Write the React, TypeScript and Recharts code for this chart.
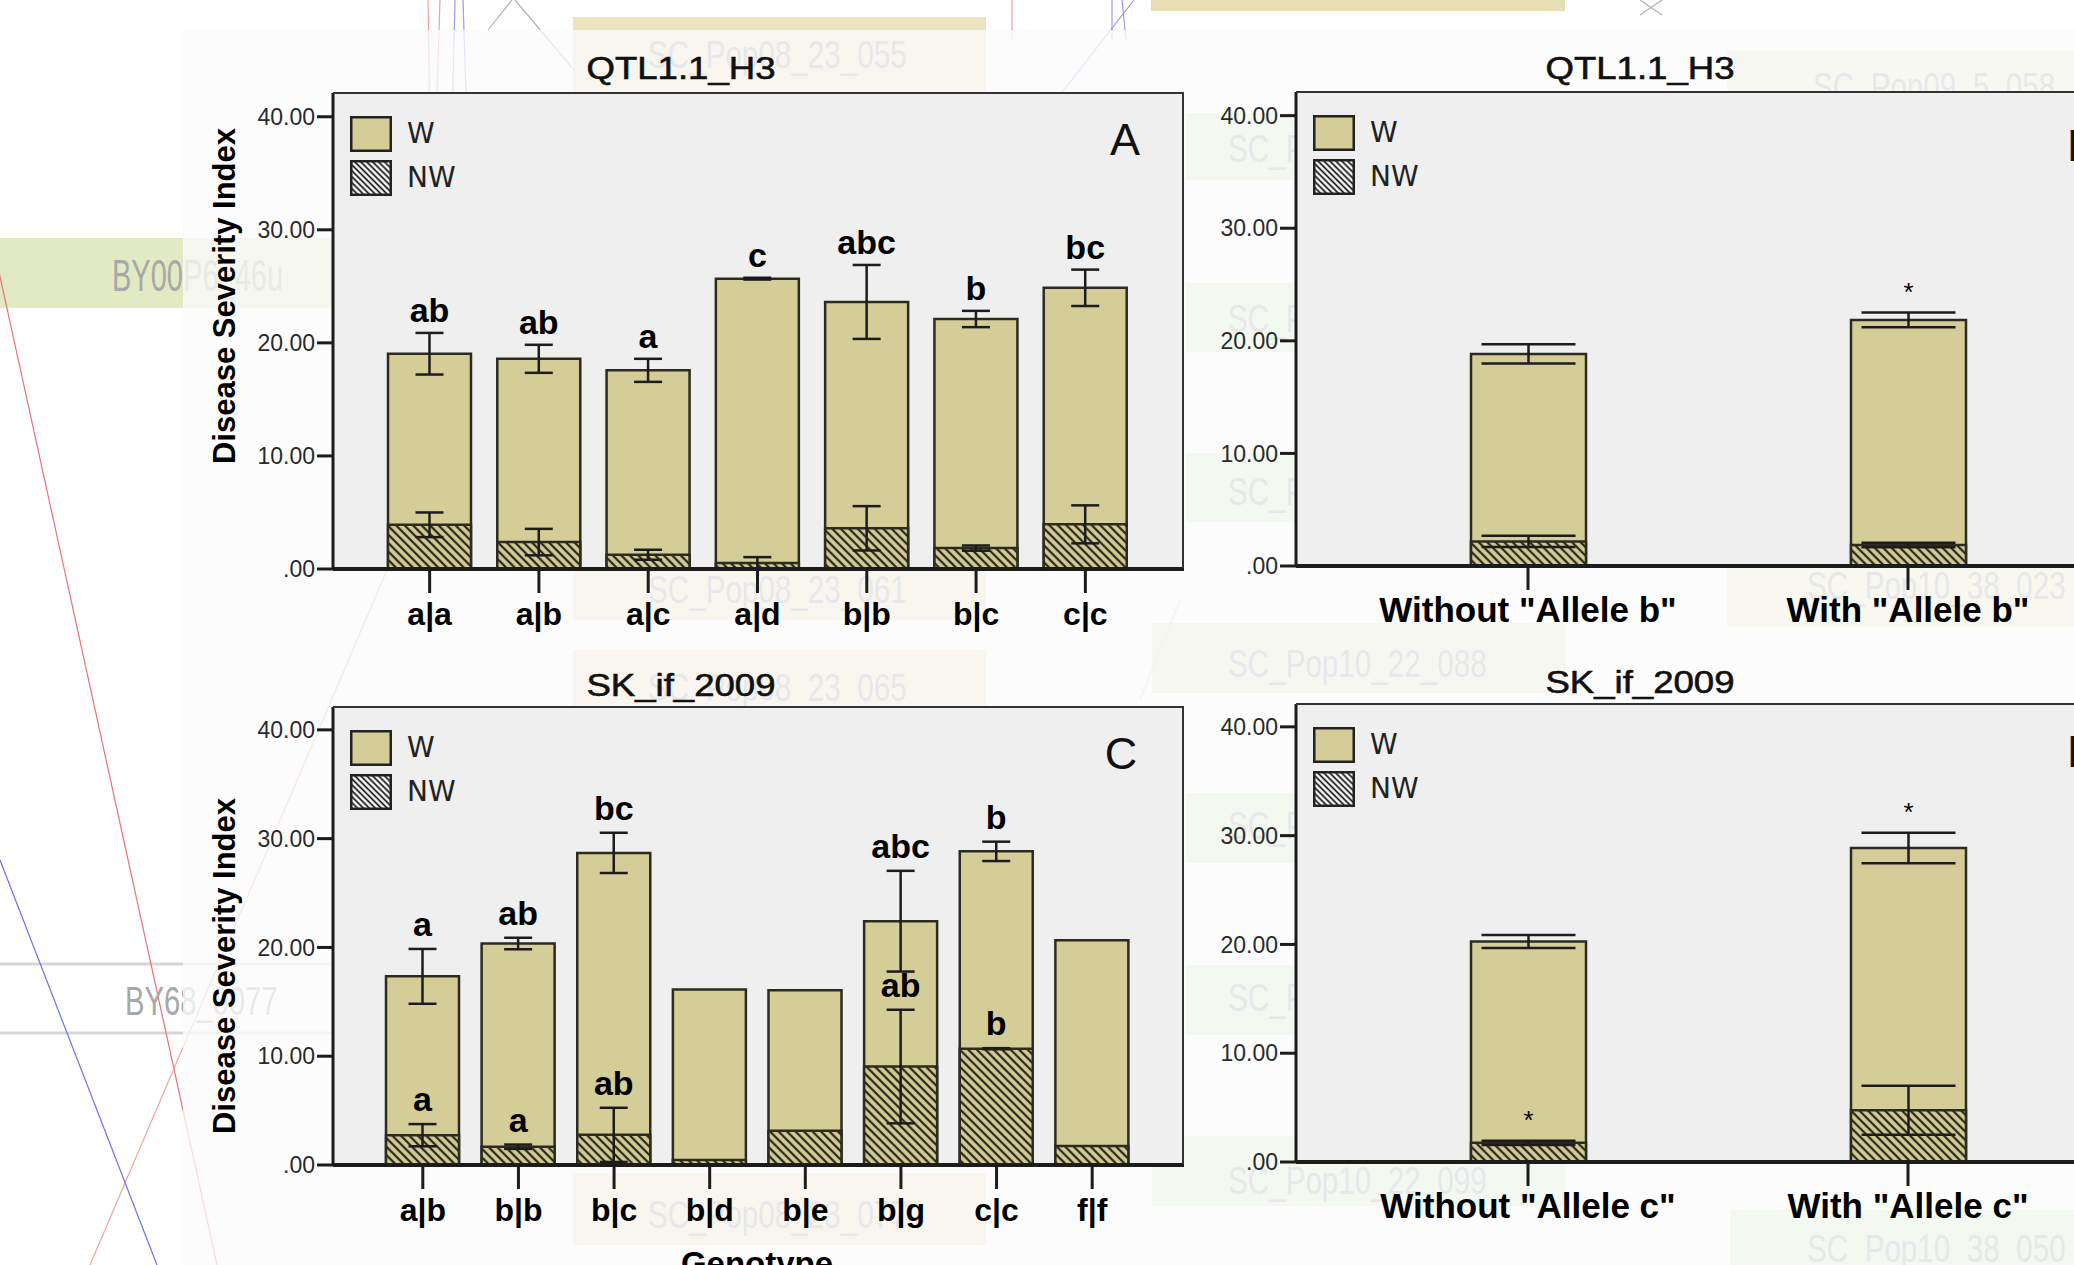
import React from "react";
import { BarChart, Bar, XAxis, YAxis, ErrorBar, LabelList, Legend, CartesianGrid } from "recharts";

const SANS = "'Liberation Sans', Arial, Helvetica, sans-serif";
const TAN = "#d4cd97";
const INK = "#1c1c1c";
const PLOT_BG = "#efefef";
const Y_MAX = 42.1;
const Y_TICKS = [0, 10, 20, 30, 40];

// A: QTL1.1_H3 by genotype
const genoA = ["a|a", "a|b", "a|c", "a|d", "b|b", "b|c", "c|c"];
const wA = [19.04, 18.59, 17.57, 25.68, 23.62, 22.11, 24.87];
const wErrA = [1.84, 1.24, 1.02, 0.08, 3.27, 0.72, 1.61];
const nwA = [3.91, 2.38, 1.26, 0.52, 3.6, 1.85, 3.95];
const nwErrA = [1.09, 1.17, 0.44, 0.53, 1.96, 0.23, 1.68];
const wSigA = ["ab", "ab", "a", "c", "abc", "b", "bc"];
const nwSigA = ["", "", "", "", "", "", ""];

// B: QTL1.1_H3 with / without allele b
const groupsB = ['Without "Allele b"', 'With "Allele b"'];
const wB = [18.84, 21.86];
const wErrB = [0.85, 0.65];
const nwB = [2.18, 1.86];
const nwErrB = [0.5, 0.2];
const wSigB = ["", "*"];
const nwSigB = ["", ""];

// C: SK_if_2009 by genotype
const genoC = ["a|b", "b|b", "b|c", "b|d", "b|e", "b|g", "c|c", "f|f"];
const wC = [17.34, 20.36, 28.69, 16.13, 16.06, 22.41, 28.83, 20.66];
const wErrC = [2.52, 0.53, 1.85, 0, 0, 4.63, 0.89, 0];
const nwC = [2.74, 1.68, 2.77, 0.47, 3.14, 9.05, 10.69, 1.75];
const nwErrC = [1.02, 0.2, 2.49, 0, 0, 5.22, 0.05, 0];
const wSigC = ["a", "ab", "bc", "", "", "abc", "b", ""];
const nwSigC = ["a", "a", "ab", "", "", "ab", "b", ""];

// D: SK_if_2009 with / without allele c
const groupsD = ['Without "Allele c"', 'With "Allele c"'];
const wD = [20.26, 28.86];
const wErrD = [0.6, 1.4];
const nwD = [1.76, 4.76];
const nwErrD = [0.2, 2.25];
const wSigD = ["", "*"];
const nwSigD = ["*", ""];

// faint map labels sitting behind the figure
const bgBoxes = [
  { x: 573, y: 17, w: 413, h: 76, fill: "#ebe5bf" },
  { x: 1151, y: 0, w: 414, h: 11, fill: "#e6dfb3" },
  { x: 1727, y: 50, w: 347, h: 60, fill: "#e6ebcc" },
  { x: 0, y: 238, w: 335, h: 70, fill: "#e2eac4" },
  { x: 1186, y: 113, w: 120, h: 67, fill: "#d6ecc8" },
  { x: 1186, y: 283, w: 120, h: 69, fill: "#d6ecc8" },
  { x: 1186, y: 453, w: 120, h: 69, fill: "#d6ecc8" },
  { x: 573, y: 565, w: 413, h: 55, fill: "#ebe5bf" },
  { x: 1727, y: 567, w: 347, h: 60, fill: "#ebe8c8" },
  { x: 1152, y: 623, w: 413, h: 70, fill: "#e8e9cc" },
  { x: 573, y: 650, w: 413, h: 57, fill: "#ebe5bf" },
  { x: 1186, y: 793, w: 120, h: 70, fill: "#d6ecc8" },
  { x: 1186, y: 965, w: 120, h: 70, fill: "#d6ecc8" },
  { x: 1152, y: 1136, w: 413, h: 70, fill: "#d6ecc8" },
  { x: 573, y: 1173, w: 413, h: 72, fill: "#ebe5bf" },
  { x: 1730, y: 1210, w: 344, h: 55, fill: "#d6ecc8" },
];
const bgLabels = [
  { t: "SC_Pop08_23_055", x: 648, y: 68 },
  { t: "SC_Pop09_5_058", x: 1813, y: 100 },
  { t: "SC_Pop09_5_061", x: 1228, y: 162 },
  { t: "SC_Pop09_5_064", x: 1228, y: 332 },
  { t: "SC_Pop09_5_070", x: 1228, y: 505 },
  { t: "SC_Pop08_23_061", x: 648, y: 603 },
  { t: "SC_Pop10_38_023", x: 1807, y: 599 },
  { t: "SC_Pop10_22_088", x: 1228, y: 677 },
  { t: "SC_Pop08_23_065", x: 648, y: 701 },
  { t: "SC_Pop10_22_090", x: 1228, y: 839 },
  { t: "SC_Pop10_22_093", x: 1228, y: 1011 },
  { t: "SC_Pop10_22_099", x: 1228, y: 1194 },
  { t: "SC_Pop08_23_077", x: 648, y: 1228 },
  { t: "SC_Pop10_38_050", x: 1807, y: 1262 },
];
const bgLines = [
  { x1: -8, y1: 240, x2: 217, y2: 1265, c: "#ee7070" },
  { x1: 90, y1: 1265, x2: 560, y2: 165, c: "#f2a0a0" },
  { x1: 0, y1: 860, x2: 157, y2: 1265, c: "#7070ee" },
  { x1: 428, y1: 0, x2: 430, y2: 125, c: "#f0a0a0" },
  { x1: 440, y1: 0, x2: 436, y2: 125, c: "#f0a0a0" },
  { x1: 455, y1: 0, x2: 452, y2: 125, c: "#9a9af0" },
  { x1: 463, y1: 0, x2: 467, y2: 125, c: "#9a9af0" },
  { x1: 515, y1: 0, x2: 575, y2: 71, c: "#b0b0b0" },
  { x1: 512, y1: 0, x2: 488, y2: 30, c: "#b0b0b0" },
  { x1: 1012, y1: 0, x2: 1012, y2: 40, c: "#f0a0a0" },
  { x1: 1112, y1: 0, x2: 1112, y2: 40, c: "#9a9af0" },
  { x1: 1122, y1: 0, x2: 1126, y2: 40, c: "#9a9af0" },
  { x1: 1134, y1: 0, x2: 1060, y2: 95, c: "#9a9af0" },
  { x1: 1640, y1: 0, x2: 1662, y2: 15, c: "#b0b0b0" },
  { x1: 1662, y1: 0, x2: 1640, y2: 15, c: "#b0b0b0" },
  { x1: 1180, y1: 600, x2: 1140, y2: 700, c: "#d0d0d0" },
];

const YW = 90;
const M = 5;
const XH = 80;
const PAD = { left: 42, right: 44 };

const fmtTick = (v: number) => (v === 0 ? ".00" : v.toFixed(2));

function LegendKey(props: any) {
  const items = [...(props.payload || [])].sort((a: any, b: any) =>
    a.dataKey === "w" ? -1 : b.dataKey === "w" ? 1 : 0
  );
  return (
    <div>
      {items.map((e: any, i: number) => (
        <div key={i} style={{ display: "flex", alignItems: "center", height: 36, marginBottom: 8 }}>
          <svg width={42} height={36} style={{ display: "block" }}>
            <rect x={1.25} y={1.25} width={39.5} height={33.5}
              fill={e.dataKey === "nw" ? "url(#hatchKey)" : TAN} stroke="#222" strokeWidth={2.5} />
          </svg>
          <span style={{ marginLeft: 15, fontFamily: "'DejaVu Sans', sans-serif", fontSize: 28, color: "#222", lineHeight: "36px" }}>
            {e.value}
          </span>
        </div>
      ))}
    </div>
  );
}

type PanelSpec = {
  left: number; top: number; width: number; height: number;
  cats: string[]; w: number[]; wErr: number[]; nw: number[]; nwErr: number[];
  wSig: string[]; nwSig: string[];
  barSize: number; cap: number; tickFont: number; tickMargin: number;
  sigFont: number; sigWeight: number; sigGap: number;
};

function Panel(s: PanelSpec) {
  const data = s.cats.map((c, i) => ({ cat: c, w: s.w[i], wErr: s.wErr[i], nw: s.nw[i], nwErr: s.nwErr[i] }));

  // letters / stars sit just above the error bar cap of each bar
  const sig = (labels: string[], vals: number[], errs: number[]) => (props: any) => {
    const i = props.index;
    const text = labels[i];
    if (!text) return null;
    const vb = props.viewBox && props.viewBox.width != null ? props.viewBox : props;
    const { x, y, width, height } = vb;
    const top = y - (height / vals[i]) * errs[i];
    return (
      <text x={x + width / 2} y={top - s.sigGap} textAnchor="middle" fontFamily={SANS}
        fontSize={s.sigFont} fontWeight={s.sigWeight} fill="#000">
        {text}
      </text>
    );
  };

  return (
    <div style={{ position: "absolute", left: s.left - YW, top: s.top - M }}>
      <BarChart width={YW + s.width + M} height={M + s.height + XH} data={data}
        margin={{ top: M, right: M, bottom: 0, left: 0 }}>
        <CartesianGrid xAxisId="w" horizontal={false} vertical={false} fill={PLOT_BG} fillOpacity={1} />
        <XAxis xAxisId="w" dataKey="cat" interval={0} padding={PAD} height={XH}
          tickSize={24} tickMargin={s.tickMargin}
          axisLine={{ stroke: INK, strokeWidth: 4 }} tickLine={{ stroke: INK, strokeWidth: 3 }}
          tick={{ fill: "#000", fontSize: s.tickFont, fontWeight: 700, fontFamily: SANS }} />
        <XAxis xAxisId="nw" dataKey="cat" hide height={0} padding={PAD} />
        <YAxis domain={[0, Y_MAX]} ticks={Y_TICKS} allowDataOverflow width={YW}
          tickSize={16} tickMargin={2} tickFormatter={fmtTick}
          axisLine={{ stroke: INK, strokeWidth: 3 }} tickLine={{ stroke: INK, strokeWidth: 3 }}
          tick={{ fill: "#2a2a2a", fontSize: 23, fontFamily: SANS }} />
        <Legend layout="vertical" align="center" verticalAlign="middle" content={LegendKey}
          wrapperStyle={{ left: YW + 17, top: M + 23, width: "auto", height: "auto" }} />
        <Bar xAxisId="w" dataKey="w" name="W" fill={TAN} stroke="#2c2b20" strokeWidth={2.5}
          barSize={s.barSize} isAnimationActive={false}>
          <ErrorBar dataKey="wErr" width={s.cap} stroke={INK} strokeWidth={2.5} direction="y" />
          <LabelList dataKey="w" content={sig(s.wSig, s.w, s.wErr)} />
        </Bar>
        <Bar xAxisId="nw" dataKey="nw" name="NW" fill="url(#hatchBar)" stroke="#2c2b20" strokeWidth={2.5}
          barSize={s.barSize} isAnimationActive={false}>
          <ErrorBar dataKey="nwErr" width={s.cap} stroke={INK} strokeWidth={2.5} direction="y" />
          <LabelList dataKey="nw" content={sig(s.nwSig, s.nw, s.nwErr)} />
        </Bar>
      </BarChart>
      {/* top and right edges of the plot frame */}
      <div style={{
        position: "absolute", left: YW, top: M - 1, width: s.width, height: s.height,
        borderTop: "2.5px solid #333", borderRight: "2.5px solid #333", boxSizing: "border-box", pointerEvents: "none",
      }} />
    </div>
  );
}

function Backdrop() {
  return (
    <svg width={2074} height={1265} style={{ position: "absolute", left: 0, top: 0 }}>
      {bgBoxes.map((b, i) => (
        <rect key={i} x={b.x} y={b.y} width={b.w} height={b.h} fill={b.fill} />
      ))}
      <line x1={0} y1={964} x2={335} y2={964} stroke="#d6d6d6" strokeWidth={3} />
      <line x1={0} y1={1033} x2={335} y2={1033} stroke="#d6d6d6" strokeWidth={3} />
      {bgLines.map((l, i) => (
        <line key={i} x1={l.x1} y1={l.y1} x2={l.x2} y2={l.y2} stroke={l.c} strokeWidth={1.2} />
      ))}
      {bgLabels.map((t, i) => (
        <text key={i} transform={`translate(${t.x},${t.y}) scale(0.78,1)`} fontFamily={SANS}
          fontSize={38} fill="#a2a2b6">{t.t}</text>
      ))}
      <text transform="translate(112,291) scale(0.66,1)" fontFamily={SANS} fontSize={44} fill="#a8a8a8">BY00P6_46u</text>
      <text transform="translate(125,1015) scale(0.73,1)" fontFamily={SANS} fontSize={40} fill="#a8a8a8">BY68_0077</text>
      <rect x={183} y={30} width={1891} height={1235} fill="#fbfbfb" opacity={0.78} />
    </svg>
  );
}

function Annotations() {
  const title = (t: string, cx: number, by: number) => (
    <text transform={`translate(${cx},${by}) scale(1.18,1)`} textAnchor="middle" fontFamily={SANS}
      fontSize={31} fill="#111" stroke="#111" strokeWidth={0.6}>{t}</text>
  );
  const yTitle = (cy: number) => (
    <text transform={`translate(235,${cy}) rotate(-90)`} textAnchor="middle" fontFamily={SANS}
      fontSize={31} fontWeight={700} fill="#000">Disease Severity Index</text>
  );
  return (
    <svg width={2074} height={1265} style={{ position: "absolute", left: 0, top: 0, pointerEvents: "none" }}>
      {title("QTL1.1_H3", 681, 79)}
      {title("QTL1.1_H3", 1640, 79)}
      {title("SK_if_2009", 681, 696)}
      {title("SK_if_2009", 1640, 693)}
      {yTitle(296)}
      {yTitle(966)}
      <text x={1125} y={155} textAnchor="middle" fontFamily={SANS} fontSize={45} fill="#111">A</text>
      <text x={2067} y={161} fontFamily={SANS} fontSize={45} fill="#111">B</text>
      <text x={1121} y={769} textAnchor="middle" fontFamily={SANS} fontSize={45} fill="#111">C</text>
      <text x={2067} y={767} fontFamily={SANS} fontSize={45} fill="#111">D</text>
      <text x={757} y={1275} textAnchor="middle" fontFamily={SANS} fontSize={33} fontWeight={700} fill="#000">Genotype</text>
    </svg>
  );
}

export default function App() {
  return (
    <div style={{ position: "fixed", left: 0, top: 0, width: 2074, height: 1265, overflow: "hidden", background: "#fff", fontFamily: SANS }}>
      <svg width={0} height={0} style={{ position: "absolute" }}>
        <defs>
          <pattern id="hatchBar" patternUnits="userSpaceOnUse" width={6} height={6} patternTransform="rotate(-45)">
            <rect width={6} height={6} fill={TAN} />
            <line x1={3} y1={0} x2={3} y2={6} stroke="#2b2a1c" strokeWidth={2.3} />
          </pattern>
          <pattern id="hatchKey" patternUnits="userSpaceOnUse" width={4.2} height={4.2} patternTransform="rotate(-45)">
            <rect width={4.2} height={4.2} fill="#fff" />
            <line x1={2.1} y1={0} x2={2.1} y2={4.2} stroke="#111" strokeWidth={1.7} />
          </pattern>
        </defs>
      </svg>
      <Backdrop />
      <Panel left={333} top={93} width={851} height={476} cats={genoA} w={wA} wErr={wErrA} nw={nwA} nwErr={nwErrA}
        wSig={wSigA} nwSig={nwSigA} barSize={83} cap={14} tickFont={32} tickMargin={9} sigFont={34} sigWeight={700} sigGap={11} />
      <Panel left={1296} top={92} width={846} height={474} cats={groupsB} w={wB} wErr={wErrB} nw={nwB} nwErr={nwErrB}
        wSig={wSigB} nwSig={nwSigB} barSize={115} cap={47} tickFont={35} tickMargin={7} sigFont={26} sigWeight={400} sigGap={12} />
      <Panel left={333} top={707} width={851} height={458} cats={genoC} w={wC} wErr={wErrC} nw={nwC} nwErr={nwErrC}
        wSig={wSigC} nwSig={nwSigC} barSize={73} cap={14} tickFont={32} tickMargin={9} sigFont={34} sigWeight={700} sigGap={13} />
      <Panel left={1296} top={704} width={846} height={458} cats={groupsD} w={wD} wErr={wErrD} nw={nwD} nwErr={nwErrD}
        wSig={wSigD} nwSig={nwSigD} barSize={115} cap={47} tickFont={35} tickMargin={7} sigFont={26} sigWeight={400} sigGap={12} />
      <Annotations />
    </div>
  );
}
